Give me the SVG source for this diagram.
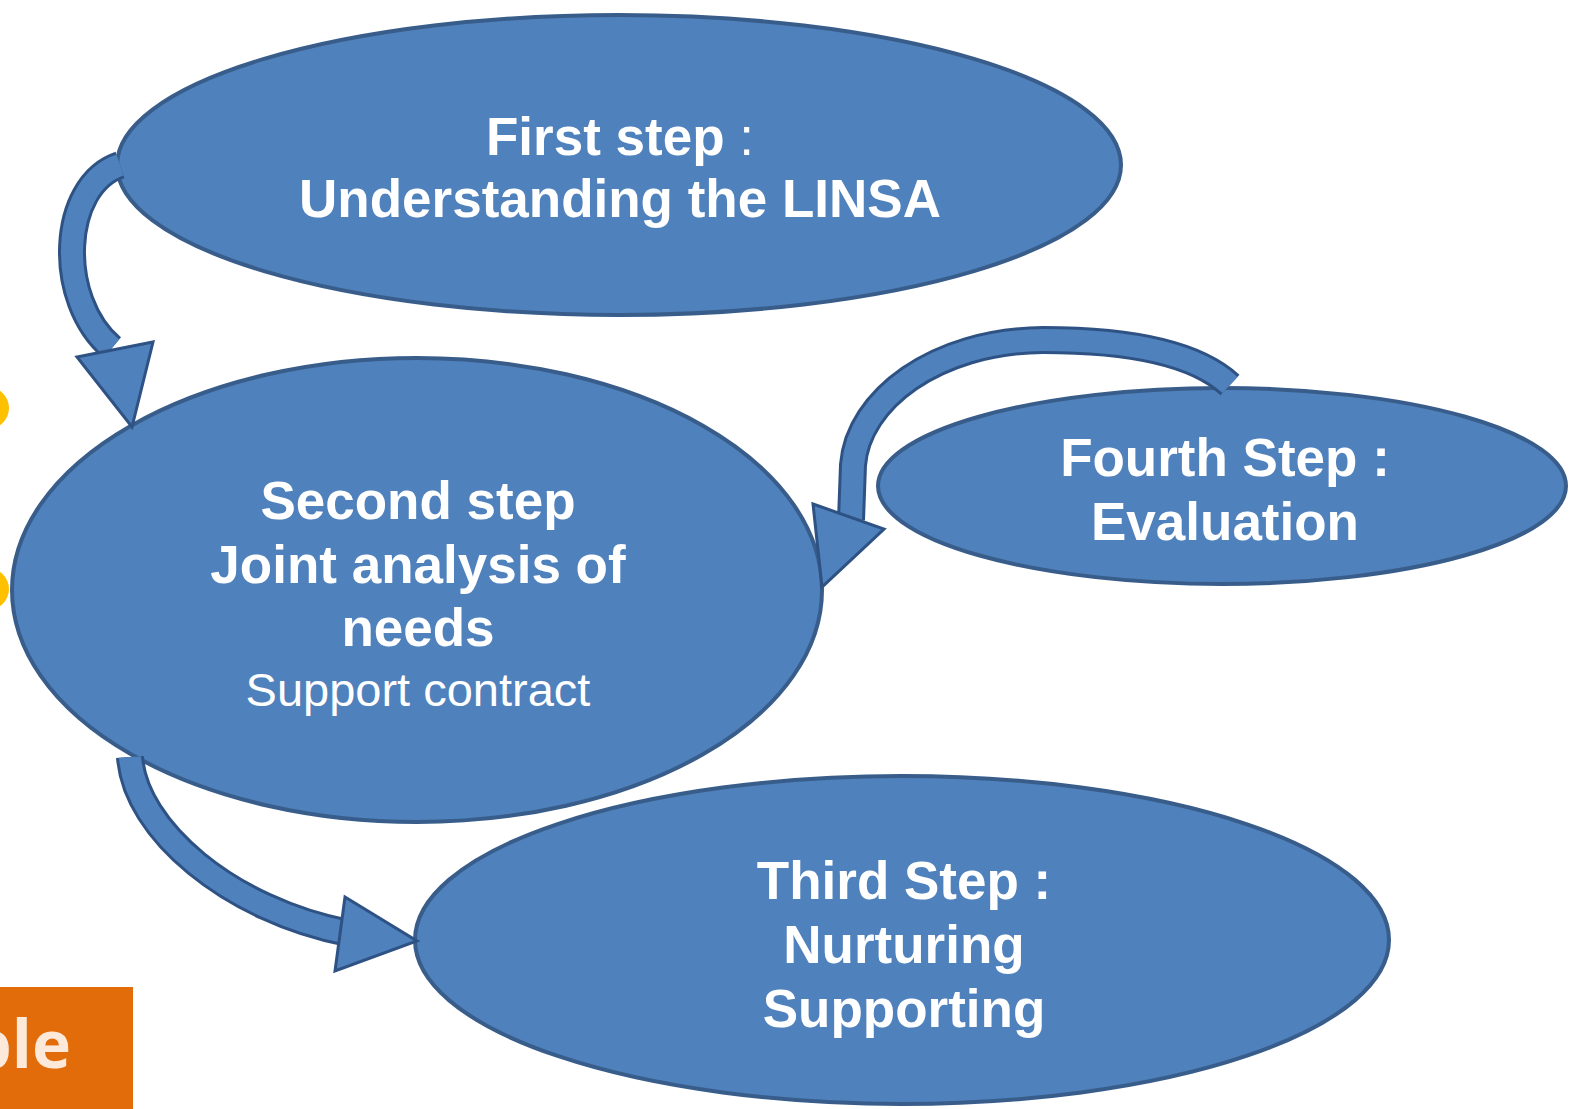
<svg xmlns="http://www.w3.org/2000/svg" width="1574" height="1109" viewBox="0 0 1574 1109">
<style>
.node{fill:#4F81BD;stroke:#385D8A;stroke-width:4}
.t{font-family:"Liberation Sans",Arial,sans-serif;font-weight:bold;font-size:53px;fill:#FFFFFF;text-anchor:middle}
.r{font-weight:normal}
.sh-out{fill:none;stroke:#2E5283;stroke-width:28}
.sh-in{fill:none;stroke:#4F81BD;stroke-width:22}
.head{fill:#4F81BD;stroke:#2E5283;stroke-width:3;stroke-linejoin:miter}
</style>
<rect width="1574" height="1109" fill="#FFFFFF"/>
<g id="decor">
<circle cx="-12" cy="408" r="21" fill="#FFC000"/>
<circle cx="-12" cy="589" r="21" fill="#FFC000"/>
<rect x="0" y="987" width="133" height="122" fill="#E36C0A"/>
<text x="71" y="1068" font-family="'Open Sans','Liberation Sans',sans-serif" font-weight="bold" font-size="66" fill="#FDE9D9" text-anchor="end">ple</text>
</g>
<g id="node-first">
<ellipse class="node" cx="619" cy="165" rx="502" ry="150"/>
<text class="t" x="620" y="155">First step <tspan class="r">:</tspan></text>
<text class="t" x="620" y="217">Understanding the LINSA</text>
</g>
<g id="node-second">
<ellipse class="node" cx="417" cy="590" rx="405" ry="232"/>
<text class="t" x="418" y="519">Second step</text>
<text class="t" x="418" y="583">Joint analysis of</text>
<text class="t" x="418" y="646">needs</text>
<text class="t r" x="418" y="706" style="font-size:47px">Support contract</text>
</g>
<g id="node-fourth">
<ellipse class="node" cx="1222" cy="486" rx="344" ry="98"/>
<text class="t" x="1225" y="476">Fourth Step :</text>
<text class="t" x="1225" y="540">Evaluation</text>
</g>
<g id="node-third">
<ellipse class="node" cx="902" cy="940" rx="487" ry="164"/>
<text class="t" x="904" y="899">Third Step :</text>
<text class="t" x="904" y="963">Nurturing</text>
<text class="t" x="904" y="1027">Supporting</text>
</g>
<g id="connectors">
<g id="arrow-first-second">
<path class="sh-out" d="M120,165 C60,185 55,300 112,348"/>
<path class="sh-in" d="M120,165 C60,185 55,300 112,348"/>
<polygon class="head" points="77,357 153,342 132,427"/>
</g>
<g id="arrow-fourth-second">
<path class="sh-out" d="M1230,385 C1190,348 1110,340 1043,340 C935,341 858,400 853,465 L851,520"/>
<path class="sh-in" d="M1230,385 C1190,348 1110,340 1043,340 C935,341 858,400 853,465 L851,520"/>
<polygon class="head" points="813,504 884,529 822,587"/>
</g>
<g id="arrow-second-third">
<path class="sh-out" d="M130,757 C135,830 230,910 348,933"/>
<path class="sh-in" d="M130,757 C135,830 230,910 348,933"/>
<polygon class="head" points="345,897 417,941 335,971"/>
</g>
</g>
</svg>
